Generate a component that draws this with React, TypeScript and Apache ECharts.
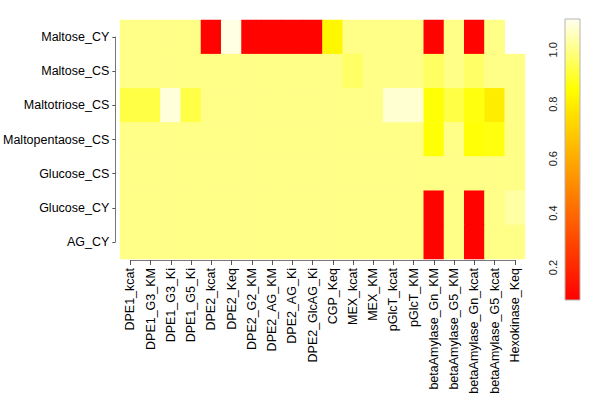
import React, { useEffect, useRef } from "react";
import * as echarts from "echarts";

const rowNames = ["Maltose_CY", "Maltose_CS", "Maltotriose_CS", "Maltopentaose_CS", "Glucose_CS", "Glucose_CY", "AG_CY"];
const colNames = [
  "DPE1_kcat", "DPE1_G3_KM", "DPE1_G3_Ki", "DPE1_G5_Ki", "DPE2_kcat", "DPE2_Keq", "DPE2_G2_KM",
  "DPE2_AG_KM", "DPE2_AG_Ki", "DPE2_GlcAG_Ki", "CGP_Keq", "MEX_kcat", "MEX_KM", "pGlcT_kcat",
  "pGlcT_KM", "betaAmylase_Gn_KM", "betaAmylase_G5_KM", "betaAmylase_Gn_kcat", "betaAmylase_G5_kcat", "Hexokinase_Keq",
];

// null = missing value (drawn blank)
const maltoseCY = [1.0, 1.0, 1.0, 1.0, 0.09, 1.1, 0.09, 0.09, 0.09, 0.09, 0.83, 1.0, 1.0, 1.0, 1.0, 0.09, 1.0, 0.09, 1.0, null];
const maltoseCS = [1.0, 1.0, 1.0, 1.0, 1.0, 1.0, 1.0, 1.0, 1.0, 1.0, 1.0, 0.965, 1.0, 1.0, 1.0, 0.96, 1.0, 0.965, 1.0, 1.0];
const maltotrioseCS = [0.93, 0.93, 1.09, 0.93, 1.0, 1.0, 1.0, 1.0, 1.0, 1.0, 1.0, 1.0, 1.0, 1.08, 1.08, 0.86, 0.93, 0.87, 0.8, 1.0];
const maltopentaoseCS = [1.0, 1.0, 1.0, 1.0, 1.0, 1.0, 1.0, 1.0, 1.0, 1.0, 1.0, 1.0, 1.0, 1.0, 1.0, 0.86, 1.0, 0.86, 0.87, 1.0];
const glucoseCS = [1.0, 1.0, 1.0, 1.0, 1.0, 1.0, 1.0, 1.0, 1.0, 1.0, 1.0, 1.0, 1.0, 1.0, 1.0, 1.0, 1.0, 1.0, 1.0, 1.0];
const glucoseCY = [1.0, 1.0, 1.0, 1.0, 1.0, 1.0, 1.0, 1.0, 1.0, 1.0, 1.0, 1.0, 1.0, 1.0, 1.0, 0.09, 1.0, 0.09, 1.0, 1.03];
const agCY = [1.0, 1.0, 1.0, 1.0, 1.0, 1.0, 1.0, 1.0, 1.0, 1.0, 1.0, 1.0, 1.0, 1.0, 1.0, 0.09, 1.0, 0.09, 1.0, 1.0];

const rowValues = [maltoseCY, maltoseCS, maltotrioseCS, maltopentaoseCS, glucoseCS, glucoseCY, agCY];

const scaleMin = 0.081;
const scaleMax = 1.113;
const scaleTicks = [0.2, 0.4, 0.6, 0.8, 1.0];

// heat.colors-like palette: red -> yellow over first 3/4, then desaturate to near white
const heatColors = ["#FF0000", "#FF5500", "#FFAA00", "#FFFF00", "#FFFFF0"];

const FONT = "Liberation Sans, Arial, Helvetica, sans-serif";

export default function App() {
  const ref = useRef<HTMLDivElement>(null);

  useEffect(() => {
    document.body.style.margin = "0";
    if (!ref.current) return;
    const chart = echarts.init(ref.current, null, { renderer: "svg" });

    const data: any[] = [];
    rowValues.forEach((vals, r) => {
      vals.forEach((v, c) => {
        data.push([c, r, v === null ? "-" : v]);
      });
    });

    const heatLeft = 120;
    const heatTop = 20;
    const heatW = 405;
    const heatH = 239;
    const colW = heatW / colNames.length;
    const rowH = heatH / rowNames.length;

    const barGradient = new echarts.graphic.LinearGradient(
      0, 1, 0, 0,
      heatColors.map((c, i) => ({ offset: i / (heatColors.length - 1), color: c }))
    );

    chart.setOption({
      animation: false,
      backgroundColor: "#ffffff",
      textStyle: { fontFamily: FONT },
      grid: [
        { left: heatLeft, top: heatTop, width: heatW, height: heatH },
        {
          left: heatLeft + colW / 2,
          top: heatTop + rowH / 2,
          width: heatW - colW,
          height: heatH - rowH,
        },
        {
          left: 565,
          top: 19,
          width: 15,
          height: 281,
          show: true,
          backgroundColor: barGradient,
          borderColor: "#b5b5b5",
          borderWidth: 1,
        },
      ],
      xAxis: [
        { type: "category", gridIndex: 0, data: colNames, show: false },
        {
          type: "category",
          gridIndex: 1,
          data: colNames,
          boundaryGap: false,
          position: "bottom",
          offset: 260 - (heatTop + rowH / 2 + heatH - rowH),
          axisLine: { show: true, lineStyle: { color: "#777", width: 1 } },
          axisTick: { show: true, length: 5, lineStyle: { color: "#555" } },
          axisLabel: {
            rotate: 90,
            interval: 0,
            margin: 8,
            fontSize: 12.5,
            color: "#000",
            fontFamily: FONT,
          },
          splitLine: { show: false },
        },
        { type: "value", gridIndex: 2, show: false, min: 0, max: 1 },
      ],
      yAxis: [
        { type: "category", gridIndex: 0, data: rowNames, inverse: true, show: false },
        {
          type: "category",
          gridIndex: 1,
          data: rowNames,
          inverse: true,
          boundaryGap: false,
          position: "left",
          offset: heatLeft + colW / 2 - 115,
          axisLine: { show: true, lineStyle: { color: "#777", width: 1 } },
          axisTick: { show: true, length: 3, lineStyle: { color: "#555" } },
          axisLabel: {
            interval: 0,
            margin: 6,
            fontSize: 12.5,
            color: "#000",
            fontFamily: FONT,
          },
          splitLine: { show: false },
        },
        {
          type: "value",
          gridIndex: 2,
          min: scaleMin,
          max: scaleMax,
          position: "left",
          axisLine: { show: false },
          axisTick: { show: false },
          splitLine: { show: false },
          axisLabel: {
            customValues: scaleTicks,
            rotate: 90,
            margin: 7,
            fontSize: 11,
            color: "#222",
            fontFamily: FONT,
            formatter: (v: number) => v.toFixed(1),
          },
        },
      ],
      visualMap: {
        type: "continuous",
        show: false,
        min: scaleMin,
        max: scaleMax,
        dimension: 2,
        seriesIndex: 0,
        inRange: { color: heatColors },
      },
      series: [
        {
          type: "heatmap",
          xAxisIndex: 0,
          yAxisIndex: 0,
          data,
          itemStyle: { borderWidth: 0 },
          emphasis: { disabled: true },
        },
      ],
    });

    return () => {
      chart.dispose();
    };
  }, []);

  return <div ref={ref} style={{ width: 600, height: 400 }} />;
}
